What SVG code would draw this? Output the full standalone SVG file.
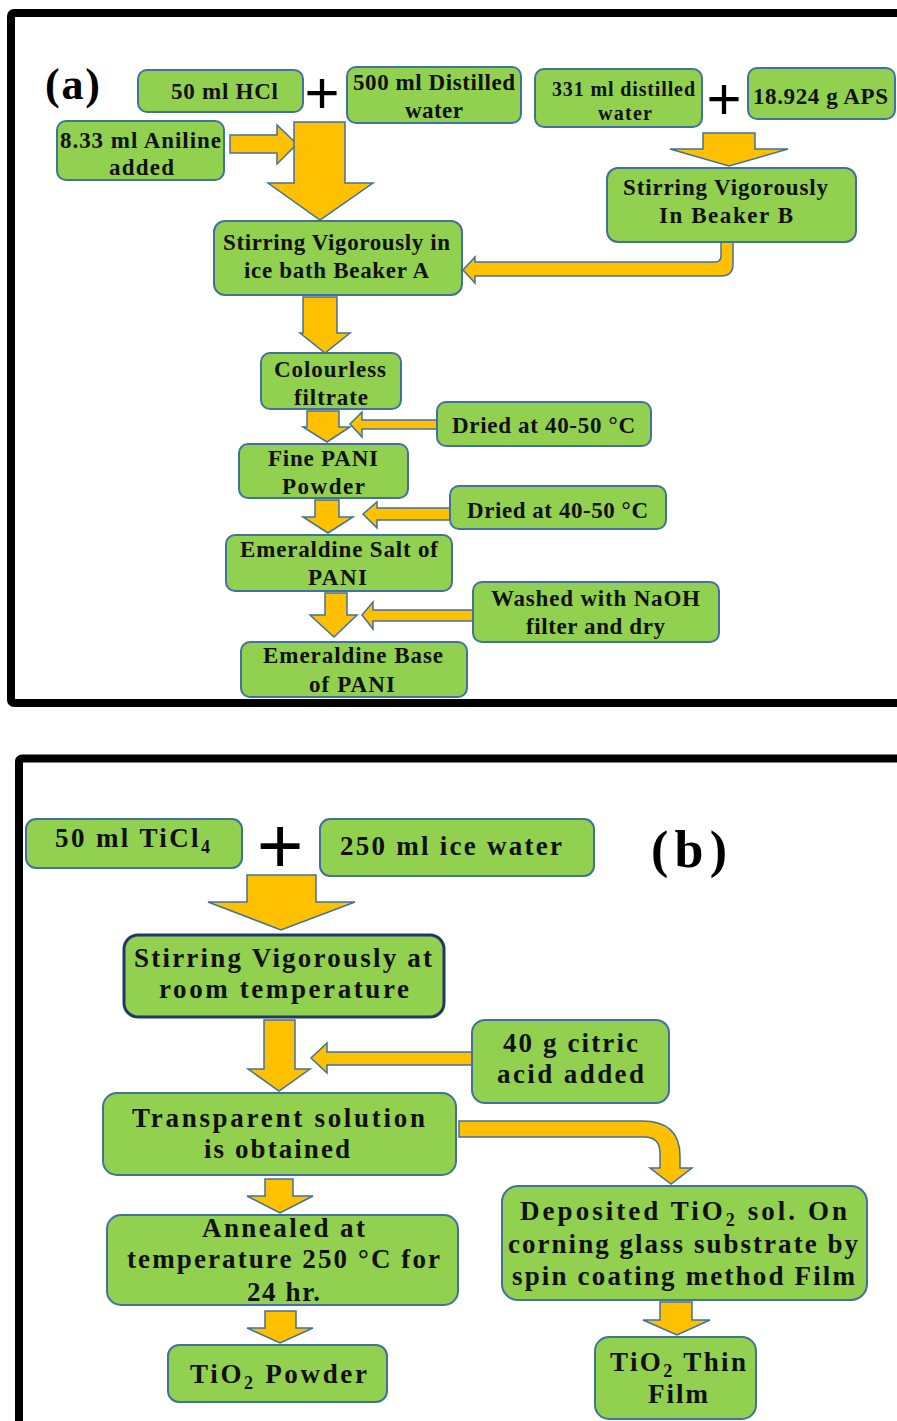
<svg xmlns="http://www.w3.org/2000/svg" width="897" height="1421" viewBox="0 0 897 1421">
<style>
.frame{fill:none;stroke:#000;stroke-width:8}
.box{fill:#92D050;stroke:#41719C;stroke-width:2}
.dark{stroke:#1F3864;stroke-width:3}
.arr{fill:#FFC000;stroke:#41719C;stroke-width:1.5;stroke-linejoin:miter}
.t{font-family:"Liberation Serif","Times New Roman",serif;font-weight:bold;fill:#111;text-anchor:middle}
.a{font-size:23px}
.s{font-size:20px}
.b{font-size:27px}
.lbl{font-family:"Liberation Serif","Times New Roman",serif;font-weight:bold;fill:#000;text-anchor:middle}
.plus{font-family:"Liberation Sans",Arial,sans-serif;fill:#000;text-anchor:middle}
</style>
<rect width="897" height="1421" fill="#fff"/>
<rect class="frame" x="11" y="13" width="900" height="690" rx="3"/>
<rect class="frame" x="19" y="758.5" width="900" height="700" rx="3"/>

<text class="lbl" x="72.5" y="99" font-size="44" textLength="55">(a)</text>
<text class="lbl" x="689" y="867" font-size="52" textLength="76">(b)</text>
<text class="plus" x="322" y="113" font-size="60">+</text>
<text class="plus" x="724" y="119" font-size="60">+</text>
<text class="plus" x="280" y="873" font-size="80">+</text>

<g id="connectors">
<polygon class="arr" points="230,135 277,135 277,125 297,144 277,164 277,153 230,153"/>
<polygon class="arr" points="294,122 345,122 345,183 373,183 320,220 268,183 294,183"/>
<polygon class="arr" points="703,133 755,133 755,149 788,149 729,166 670,149 703,149"/>
<path class="arr" d="M721,242 L733,242 L733,264 Q733,276 721,276 L475,276 L475,283 L463,270 L475,257 L475,262 L715,262 Q721,262 721,256 Z"/>
<polygon class="arr" points="303,297 337,297 337,333 350,333 325,353 300,333 303,333"/>
<polygon class="arr" points="307,411 339,411 339,427 350,427 327,442 303,427 307,427"/>
<polygon class="arr" points="437,420 362,420 362,412 350,424 362,437 362,429 437,429"/>
<polygon class="arr" points="315,500 339,500 339,517 353,517 328,533 303,517 315,517"/>
<polygon class="arr" points="450,508 377,508 377,502 363,514 377,528 377,520 450,520"/>
<polygon class="arr" points="325,593 347,593 347,615 357,615 334,637 310,615 325,615"/>
<polygon class="arr" points="473,610 373,610 373,602 362,615 373,629 373,621 473,621"/>

<polygon class="arr" points="247,875 316,875 316,902 355,902 281,930 208,902 247,902"/>
<polygon class="arr" points="264,1020 295,1020 295,1069 310,1069 279,1091 248,1069 264,1069"/>
<polygon class="arr" points="472,1052 327,1052 327,1043 311,1058 327,1073 327,1065 472,1065"/>
<path class="arr" d="M459,1121 L642,1121 Q680,1121 680,1156 L680,1168 L692,1168 L671,1184 L650,1168 L660,1168 L660,1153 Q660,1137 644,1137 L459,1137 Z"/>
<polygon class="arr" points="265,1179 293,1179 293,1196 313,1196 280,1213 247,1196 265,1196"/>
<polygon class="arr" points="265,1311 296,1311 296,1328 313,1328 280,1343 247,1328 265,1328"/>
<polygon class="arr" points="660,1302 692,1302 692,1320 710,1320 677,1335 643,1320 660,1320"/>
</g>

<g id="n-hcl"><rect class="box" x="138" y="70" width="165" height="42" rx="9"/>
<text class="t a" x="224.5" y="99" textLength="107">50 ml HCl</text></g>

<g id="n-water500"><rect class="box" x="347" y="67" width="174" height="56" rx="9"/>
<text class="t a" x="434" y="90" textLength="162">500 ml Distilled</text>
<text class="t a" x="434" y="118" textLength="58">water</text></g>

<g id="n-water331"><rect class="box" x="535" y="69" width="167" height="58" rx="9"/>
<text class="t s" x="623.5" y="96" textLength="143">331 ml distilled</text>
<text class="t s" x="625" y="120" textLength="54">water</text></g>

<g id="n-aps"><rect class="box" x="748" y="68" width="147" height="51" rx="9"/>
<text class="t a" x="820.5" y="104" textLength="135">18.924 g APS</text></g>

<g id="n-aniline"><rect class="box" x="57" y="121" width="167" height="59" rx="9"/>
<text class="t a" x="140.5" y="148" textLength="161">8.33 ml Aniline</text>
<text class="t a" x="141.5" y="175" textLength="65">added</text></g>

<g id="n-beakerA"><rect class="box" x="214" y="221" width="248" height="74" rx="11"/>
<text class="t a" x="336.5" y="250" textLength="227">Stirring Vigorously in</text>
<text class="t a" x="336.5" y="278" textLength="185">ice bath Beaker A</text></g>

<g id="n-beakerB"><rect class="box" x="607" y="168" width="249" height="74" rx="11"/>
<text class="t a" x="725.5" y="195" textLength="205">Stirring Vigorously</text>
<text class="t a" x="726" y="223" textLength="134">In Beaker  B</text></g>

<g id="n-colourless"><rect class="box" x="261" y="353" width="140" height="56" rx="9"/>
<text class="t a" x="330" y="377" textLength="112">Colourless</text>
<text class="t a" x="331" y="405" textLength="74">filtrate</text></g>

<g id="n-dried1"><rect class="box" x="437" y="402" width="214" height="44" rx="9"/>
<text class="t a" x="543.5" y="433" textLength="183">Dried at 40-50 °C</text></g>

<g id="n-finepani"><rect class="box" x="239" y="444" width="169" height="54" rx="9"/>
<text class="t a" x="323" y="466" textLength="110">Fine PANI</text>
<text class="t a" x="323.5" y="494" textLength="83">Powder</text></g>

<g id="n-dried2"><rect class="box" x="450" y="486" width="216" height="43" rx="9"/>
<text class="t a" x="557.5" y="518" textLength="181">Dried at 40-50 °C</text></g>

<g id="n-salt"><rect class="box" x="226" y="535" width="226" height="56" rx="9"/>
<text class="t a" x="339" y="557" textLength="198">Emeraldine Salt of</text>
<text class="t a" x="337.5" y="585" textLength="59">PANI</text></g>

<g id="n-washed"><rect class="box" x="473" y="582" width="246" height="60" rx="9"/>
<text class="t a" x="595.5" y="606" textLength="209">Washed with NaOH</text>
<text class="t a" x="595.5" y="634" textLength="139">filter and dry</text></g>

<g id="n-base"><rect class="box" x="241" y="642" width="226" height="55" rx="9"/>
<text class="t a" x="353" y="663" textLength="180">Emeraldine Base</text>
<text class="t a" x="352" y="692" textLength="86">of PANI</text></g>

<g id="n-ticl4"><rect class="box" x="26" y="819" width="216" height="49" rx="10"/>
<text class="t b" x="132.5" y="847" textLength="155">50 ml TiCl<tspan font-size="18" dy="6">4</tspan></text></g>

<g id="n-icewater"><rect class="box" x="320" y="819" width="274" height="57" rx="10"/>
<text class="t b" x="451" y="855" textLength="222">250 ml ice water</text></g>

<g id="n-stirring"><rect class="box dark" x="124" y="935" width="320" height="82" rx="14"/>
<text class="t b" x="283" y="967" textLength="298">Stirring Vigorously at</text>
<text class="t b" x="284" y="998" textLength="250">room temperature</text></g>

<g id="n-citric"><rect class="box" x="472" y="1020" width="197" height="83" rx="13"/>
<text class="t b" x="570.5" y="1052" textLength="135">40 g citric</text>
<text class="t b" x="570.5" y="1083" textLength="147">acid added</text></g>

<g id="n-transparent"><rect class="box" x="103" y="1093" width="353" height="82" rx="14"/>
<text class="t b" x="278.5" y="1127" textLength="293">Transparent  solution</text>
<text class="t b" x="277" y="1158" textLength="146">is obtained</text></g>

<g id="n-annealed"><rect class="box" x="107" y="1215" width="351" height="90" rx="14"/>
<text class="t b" x="283.5" y="1237" textLength="163">Annealed at</text>
<text class="t b" x="283.5" y="1268" textLength="313">temperature 250 °C for</text>
<text class="t b" x="283.5" y="1301" textLength="73">24 hr.</text></g>

<g id="n-powder"><rect class="box" x="168" y="1345" width="219" height="57" rx="11"/>
<text class="t b" x="278.5" y="1383" textLength="177">TiO<tspan font-size="18" dy="6">2</tspan><tspan dy="-6"> Powder</tspan></text></g>

<g id="n-deposited"><rect class="box" x="502" y="1186" width="365" height="114" rx="16"/>
<text class="t b" x="683.5" y="1220" textLength="327">Deposited  TiO<tspan font-size="18" dy="6">2</tspan><tspan dy="-6">  sol. On</tspan></text>
<text class="t b" x="683" y="1253" textLength="350">corning glass substrate by</text>
<text class="t b" x="683.5" y="1285" textLength="343">spin coating method Film</text></g>

<g id="n-thinfilm"><rect class="box" x="595" y="1337" width="161" height="82" rx="14"/>
<text class="t b" x="678" y="1371" textLength="136">TiO<tspan font-size="18" dy="6">2</tspan><tspan dy="-6"> Thin</tspan></text>
<text class="t b" x="678" y="1403" textLength="60">Film</text></g>
</svg>
